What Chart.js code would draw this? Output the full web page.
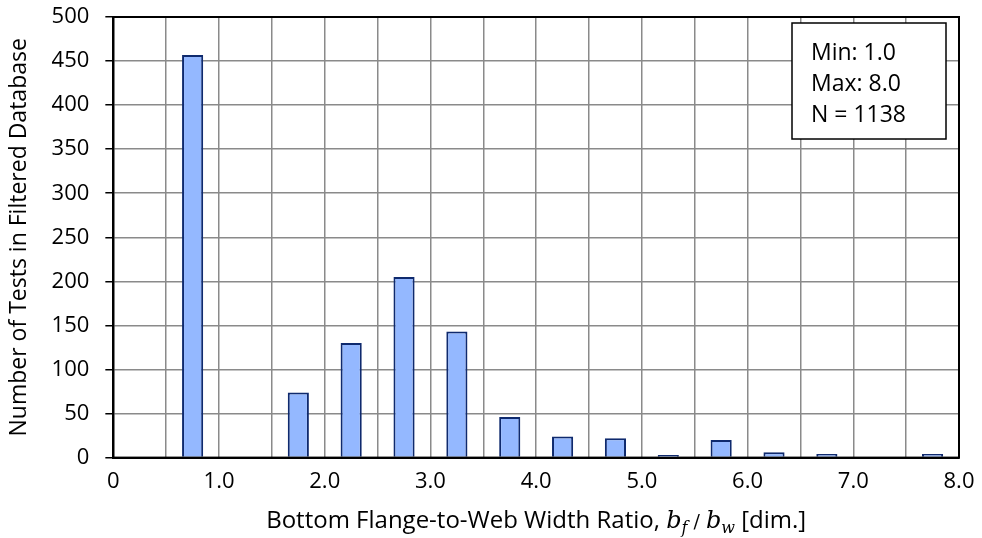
<!DOCTYPE html>
<html>
<head>
<meta charset="utf-8">
<script src="https://cdn.jsdelivr.net/npm/chart.js@4"></script>
<style>
    html, body { margin: 0; padding: 0; background: #fff; }
    #wrap { width: 982px; height: 538px; position: relative; }
</style>
</head>
<body>
<div id="wrap"><canvas id="grafico"></canvas></div>
<script>
// bin centres (ratio) and number of tests in each bin
const binCenters = [0.75, 1.75, 2.25, 2.75, 3.25, 3.75, 4.25, 4.75, 5.25, 5.75, 6.25, 6.75, 7.75];
const counts = [457, 74, 130, 205, 143, 46, 24, 22, 3, 20, 6, 4, 4];

const xTickLabels = { 0: "0", 1: "1.0", 2: "2.0", 3: "3.0", 4: "4.0", 5: "5.0", 6: "6.0", 7: "7.0", 8: "8.0" };
const statsLines = ["Min: 1.0", "Max: 8.0", "N = 1138"];
const yTitle = "Number of Tests in Filtered Database";

const fonte = "'Open Sans', Lato, sans-serif";

// frame around the plot area + stats box + x axis title with math
const extras = {
    id: "extras",
    afterDraw(chart) {
        const { ctx, chartArea: a } = chart;
        ctx.save();

        ctx.strokeStyle = "#000";
        ctx.lineWidth = 2;
        ctx.strokeRect(a.left, a.top, a.right - a.left, a.bottom - a.top);

        // stats box
        const bw = 154, bh = 116;
        const bx = a.right - 13 - bw, by = a.top + 6;
        ctx.fillStyle = "#fff";
        ctx.fillRect(bx, by, bw, bh);
        ctx.lineWidth = 1.5;
        ctx.strokeRect(bx, by, bw, bh);
        ctx.fillStyle = "#000";
        ctx.font = "23px " + fonte;
        ctx.textBaseline = "middle";
        ctx.textAlign = "left";
        statsLines.forEach((t, i) => ctx.fillText(t, bx + 19, by + 30 + i * 31));

        // x title
        const partes = [
            { t: "Bottom Flange-to-Web Width Ratio, ", f: "24px " + fonte, dy: 0 },
            { t: "b", f: "italic 24px 'DejaVu Serif', serif", dy: 0 },
            { t: "f", f: "italic 16px 'DejaVu Serif', serif", dy: 5 },
            { t: " / ", f: "19px 'DejaVu Serif', serif", dy: 0 },
            { t: "b", f: "italic 24px 'DejaVu Serif', serif", dy: 0 },
            { t: "w", f: "italic 16px 'DejaVu Serif', serif", dy: 5 },
            { t: " [dim.]", f: "24px " + fonte, dy: 0 }
        ];
        let total = 0;
        partes.forEach(p => { ctx.font = p.f; p.w = ctx.measureText(p.t).width; total += p.w; });
        let x = (a.left + a.right) / 2 - total / 2;
        const yb = a.bottom + 70;
        ctx.textBaseline = "alphabetic";
        partes.forEach(p => {
            ctx.font = p.f;
            ctx.fillText(p.t, x, yb + p.dy);
            x += p.w;
        });

        ctx.restore();
    }
};

const grafico = new Chart(document.getElementById("grafico"), {
    type: "bar",
    data: {
        datasets: [{
            data: binCenters.map((x, i) => ({ x: x, y: counts[i] })),
            backgroundColor: "#94b8ff",
            borderColor: "#0f2a6e",
            borderWidth: 2,
            categoryPercentage: 1,
            barPercentage: 0.4
        }]
    },
    options: {
        responsive: true,
        maintainAspectRatio: false,
        animation: false,
        events: [],
        layout: { padding: { top: 17, right: 23, bottom: 32, left: 6 } },
        plugins: { legend: { display: false }, tooltip: { enabled: false } },
        scales: {
            x: {
                type: "linear",
                min: 0,
                max: 8,
                offset: false,
                afterFit: s => { s.paddingLeft = 0; s.paddingRight = 0; },
                grid: { offset: false, color: "#8a8a8a", lineWidth: 1.5, drawTicks: false },
                border: { color: "#000", width: 2 },
                ticks: {
                    stepSize: 0.5,
                    autoSkip: false,
                    maxRotation: 0,
                    padding: 11,
                    color: "#000",
                    font: { family: fonte, size: 22 },
                    callback: v => (xTickLabels[v] !== undefined ? xTickLabels[v] : "")
                }
            },
            y: {
                min: 0,
                max: 500,
                afterFit: s => { s.paddingTop = 0; s.paddingBottom = 0; },
                grid: { color: "#8a8a8a", lineWidth: 1.5, tickLength: 8, tickColor: "#000", tickWidth: 1.5 },
                border: { color: "#000", width: 2 },
                ticks: {
                    stepSize: 50,
                    padding: 16,
                    color: "#000",
                    font: { family: fonte, size: 22 }
                },
                title: {
                    display: true,
                    text: yTitle,
                    color: "#000",
                    font: { family: fonte, size: 23 },
                    padding: { top: 0, bottom: 2 }
                }
            }
        }
    },
    plugins: [extras]
});
</script>
</body>
</html>
